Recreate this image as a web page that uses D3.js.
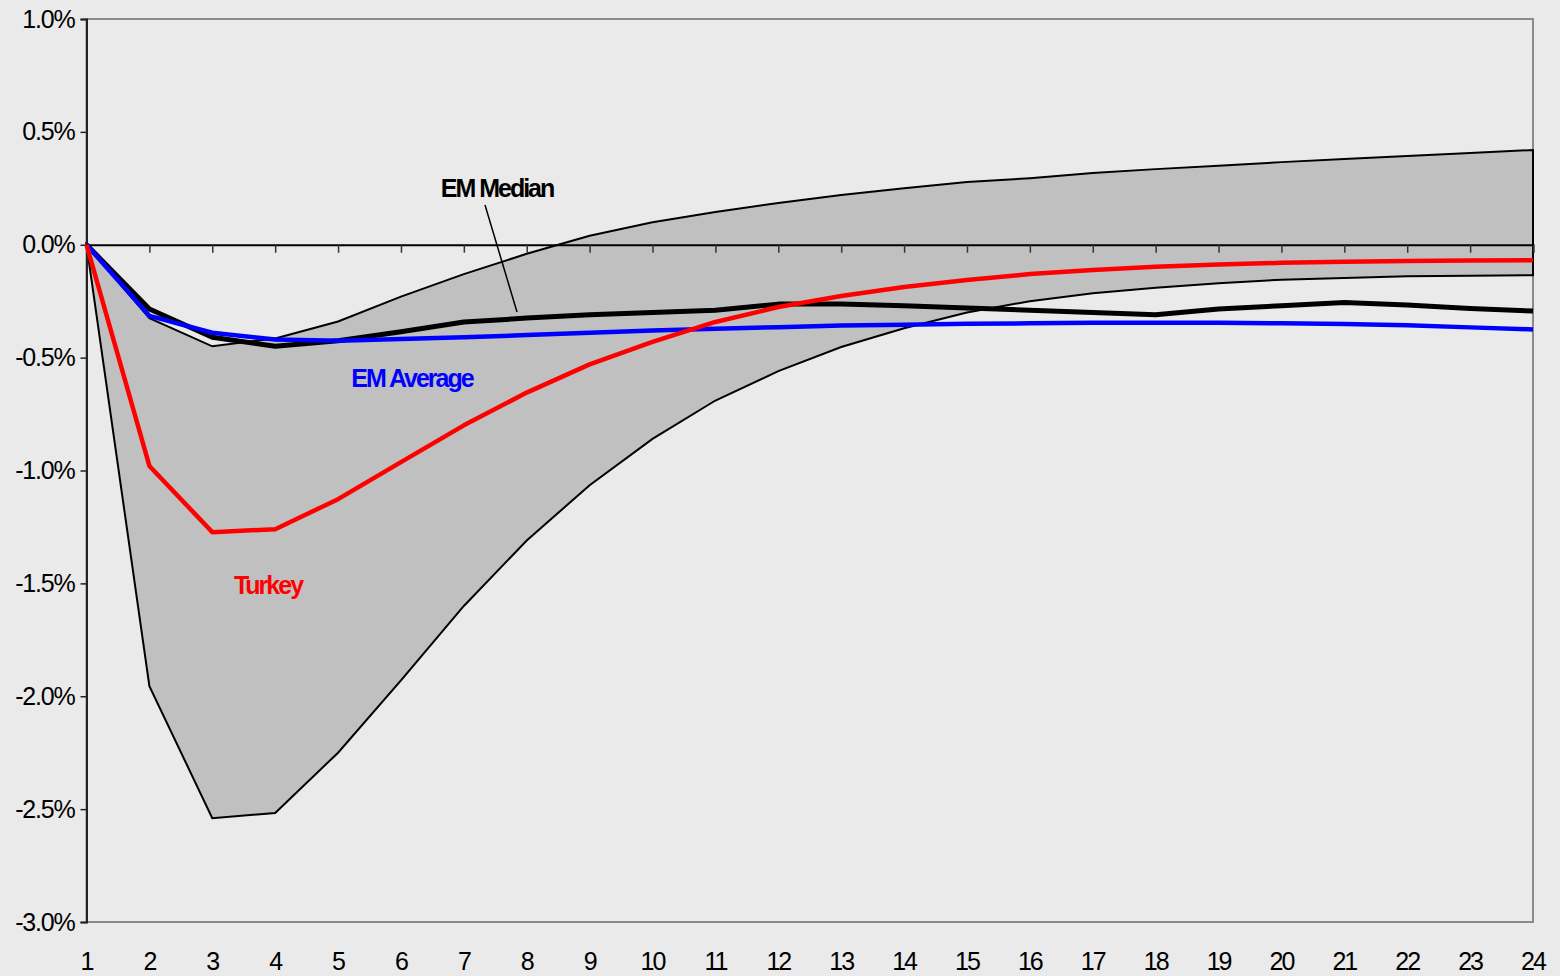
<!DOCTYPE html>
<html>
<head>
<meta charset="utf-8">
<script src="https://cdn.jsdelivr.net/npm/d3@7"></script>
<style>
  html, body { margin: 0; padding: 0; background: #eaeaea; }
  svg text { font-family: "Liberation Sans", Arial, sans-serif; }
</style>
</head>
<body>
<svg id="chart" width="1560" height="976"></svg>
<script>
// Months after the shock
const periods = d3.range(1, 25);

// Responses, in percent
const bandUpper = [0, -0.325, -0.45, -0.415, -0.34, -0.23, -0.13, -0.04, 0.04, 0.10, 0.145, 0.185, 0.22, 0.25, 0.278, 0.295, 0.318, 0.335, 0.35, 0.366, 0.38, 0.393, 0.406, 0.42];
const bandLower = [0, -1.955, -2.54, -2.517, -2.25, -1.93, -1.60, -1.31, -1.065, -0.86, -0.69, -0.56, -0.453, -0.37, -0.30, -0.25, -0.215, -0.19, -0.17, -0.155, -0.147, -0.14, -0.137, -0.135];
const emMedian = [0, -0.285, -0.41, -0.45, -0.425, -0.385, -0.342, -0.325, -0.31, -0.30, -0.29, -0.263, -0.263, -0.27, -0.28, -0.29, -0.30, -0.31, -0.285, -0.27, -0.256, -0.267, -0.282, -0.294];
const emAverage = [0, -0.315, -0.39, -0.42, -0.425, -0.417, -0.41, -0.40, -0.39, -0.38, -0.372, -0.365, -0.358, -0.354, -0.35, -0.348, -0.346, -0.345, -0.346, -0.348, -0.351, -0.357, -0.366, -0.375];
const turkey = [0, -0.98, -1.273, -1.26, -1.127, -0.963, -0.80, -0.655, -0.53, -0.43, -0.342, -0.276, -0.227, -0.187, -0.156, -0.13, -0.112, -0.097, -0.088, -0.08, -0.075, -0.072, -0.07, -0.069];

const yTicks = [1.0, 0.5, 0.0, -0.5, -1.0, -1.5, -2.0, -2.5, -3.0];

const svg = d3.select("#chart");
const plotLeft = 86.5, plotRight = 1533, plotTop = 19, plotBottom = 922;

const x = d3.scalePoint().domain(periods).range([plotLeft, plotRight]);
const y = d3.scaleLinear().domain([-3, 1]).range([plotBottom, plotTop]);

// plot frame
svg.append("rect")
  .attr("x", plotLeft).attr("y", plotTop)
  .attr("width", plotRight - plotLeft).attr("height", plotBottom - plotTop)
  .attr("fill", "#eaeaea")
  .attr("stroke", "#8a8a8a").attr("stroke-width", 2);

// shaded range between upper and lower bounds
const band = periods.map((p, i) => ({ p, hi: bandUpper[i], lo: bandLower[i] }));
const polyPts = band.map(d => [x(d.p), y(d.hi)])
  .concat(band.slice().reverse().map(d => [x(d.p), y(d.lo)]));
svg.append("path")
  .attr("d", d3.line()(polyPts) + "Z")
  .attr("fill", "#c0c0c0")
  .attr("stroke", "#000").attr("stroke-width", 2)
  .attr("stroke-linejoin", "miter");

// y axis (plain hyphen for negatives)
const pct = d => (d < 0 ? "-" : "") + Math.abs(d).toFixed(1) + "%";
const yAxis = d3.axisLeft(y)
  .tickValues(yTicks)
  .tickSize(6)
  .tickPadding(6)
  .tickFormat(pct);
const yg = svg.append("g").attr("transform", `translate(${plotLeft},0)`).call(yAxis);
yg.select(".domain").attr("stroke", "#222").attr("stroke-width", 2);
yg.selectAll(".tick line").attr("stroke", "#222").attr("stroke-width", 1.5);
yg.selectAll(".tick text")
  .attr("fill", "#000")
  .style("font-size", "25px")
  .style("letter-spacing", "-1.2px");

// x axis along the zero line
const xAxis = d3.axisBottom(x).tickSize(8).tickFormat("");
const xg = svg.append("g").attr("transform", `translate(0,${y(0)})`).call(xAxis);
xg.select(".domain").attr("stroke", "#000").attr("stroke-width", 2);
xg.selectAll(".tick line").attr("stroke", "#333").attr("stroke-width", 1.5);

// category labels beneath the plot
svg.append("g").selectAll("text")
  .data(periods)
  .join("text")
  .attr("x", d => x(d))
  .attr("y", 970)
  .attr("text-anchor", "middle")
  .style("font-size", "25px")
  .style("letter-spacing", "-2px")
  .attr("fill", "#000")
  .text(d => d);

// series lines
const lineGen = d3.line().x((d, i) => x(periods[i])).y(d => y(d));
svg.append("path").attr("d", lineGen(emMedian))
  .attr("fill", "none").attr("stroke", "#000").attr("stroke-width", 5)
  .attr("stroke-linejoin", "round");
svg.append("path").attr("d", lineGen(emAverage))
  .attr("fill", "none").attr("stroke", "#0000ff").attr("stroke-width", 4.5)
  .attr("stroke-linejoin", "round");
svg.append("path").attr("d", lineGen(turkey))
  .attr("fill", "none").attr("stroke", "#ff0000").attr("stroke-width", 4.5)
  .attr("stroke-linejoin", "round");

// annotations
svg.append("line")
  .attr("x1", 485).attr("y1", 205).attr("x2", 517).attr("y2", 312)
  .attr("stroke", "#000").attr("stroke-width", 1.5);

const labels = [
  { text: "EM Median", x: 497, y: 197, color: "#000" },
  { text: "EM Average", x: 412, y: 387, color: "#0000ff" },
  { text: "Turkey", x: 268, y: 594, color: "#ff0000" }
];
svg.append("g").selectAll("text")
  .data(labels)
  .join("text")
  .attr("x", d => d.x).attr("y", d => d.y)
  .attr("text-anchor", "middle")
  .attr("fill", d => d.color)
  .style("font-size", "25px")
  .style("font-weight", "bold")
  .style("letter-spacing", "-2px")
  .text(d => d.text);
</script>
</body>
</html>
